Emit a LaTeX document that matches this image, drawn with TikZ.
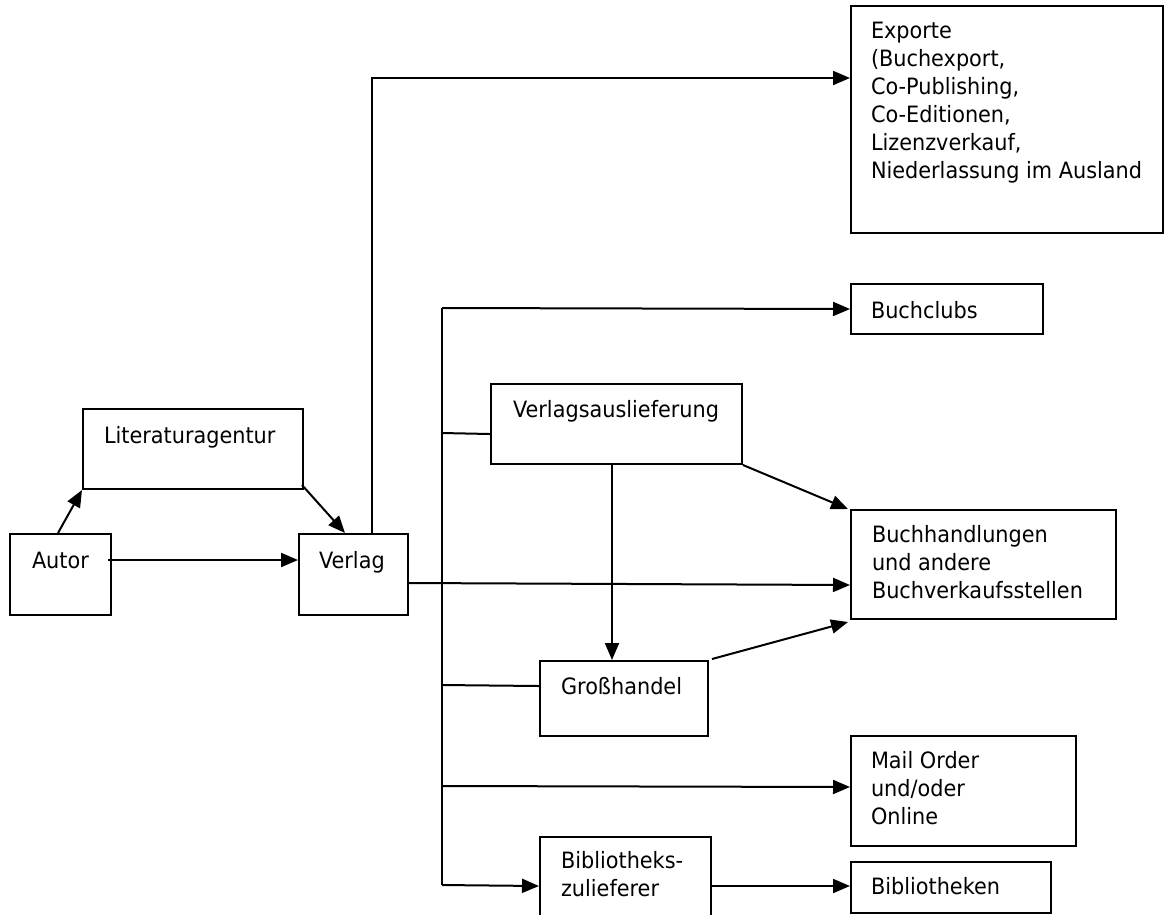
\documentclass[tikz,border=0pt]{standalone}
\usepackage{fontspec}
\setmainfont{DejaVu Sans}[FakeStretch=0.925]
\usetikzlibrary{arrows.meta,calc}
\newcommand\bt[3]{\hbox to #1pt{\hskip #2pt\parbox[t]{\dimexpr #1pt-#2pt\relax}{\raggedright #3}}}
\begin{document}
\begin{tikzpicture}[x=1pt,y=-1pt,
  bx/.style={draw, line width=2pt, inner sep=0pt, anchor=north west,
    font=\fontsize{22.5}{28}\selectfont},
  ln/.style={line width=2pt},
  arr/.style={line width=2pt, -{Triangle[length=17pt,width=14pt]}}]
\useasboundingbox (0,0) rectangle (1164,914);
% boxes
\node[bx, text height=34pt, text depth=47pt] (autor) at (9,533) {\bt{101}{22}{Autor}};
\node[bx, text height=34pt, text depth=47pt] (verlag) at (298,533) {\bt{109}{20}{Verlag}};
\node[bx, text height=34pt, text depth=46pt] (lit) at (82,408) {\bt{220}{21}{Literaturagentur}};
\node[bx, text height=32pt, text depth=195pt] (exp) at (850,5) {\bt{312}{20}{Exporte\\(Buchexport,\\Co-Publishing,\\Co-Editionen,\\Lizenzverkauf,\\Niederlassung im Ausland}};
\node[bx, text height=34pt, text depth=16pt] (club) at (850,283) {\bt{192}{20}{Buchclubs}};
\node[bx, text height=33pt, text depth=47pt] (va) at (490,383) {\bt{251}{22}{Verlagsauslieferung}};
\node[bx, text height=32pt, text depth=77pt] (bh) at (850,509) {\bt{265}{21}{Buchhandlungen\\und andere\\Buchverkaufsstellen}};
\node[bx, text height=33pt, text depth=42pt] (gh) at (539,660) {\bt{168}{21}{Großhandel}};
\node[bx, text height=32pt, text depth=78pt] (mo) at (850,735) {\bt{225}{20}{Mail Order\\und/oder\\Online}};
\node[bx, text height=31pt, text depth=67pt] (bz) at (539,836) {\bt{171}{21}{Bibliotheks-\\zulieferer}};
\node[bx, text height=32pt, text depth=19pt] (bib) at (850,861) {\bt{200}{20}{Bibliotheken}};
% connectors
\draw[arr] ([xshift=49pt]autor.north west) -- (lit.south west);
\draw[arr] ([xshift=-2pt,yshift=5pt]lit.south east) -- ([xshift=47pt]verlag.north west);
\draw[arr] ([xshift=-4pt,yshift=14.5pt]autor.east) -- ([yshift=14.5pt]verlag.west);
\draw[arr] ([xshift=-37pt]verlag.north east) |- ([yshift=41.5pt]exp.west);
\draw[arr] ([yshift=-8.5pt]verlag.east) -- ([yshift=-20.5pt]bh.west);
\coordinate (ttop) at (442,308);
\coordinate (tbot) at (442,885);
\draw[ln] (ttop) -- (tbot);
\draw[arr] (ttop) -- (club.west);
\draw[ln] (ttop |- 0,433) -- ([yshift=-10pt]va.west);
\draw[ln] (ttop |- 0,685) -- ([yshift=12.5pt]gh.west);
\draw[arr] (ttop |- 0,786) -- ([yshift=4pt]mo.west);
\draw[arr] (tbot) -- (bz.west);
\draw[arr] (bz.east) -- (bz.east -| bib.west);
\draw[arr] ([xshift=-4.5pt]va.south) -- ([xshift=-4.5pt]va.south |- gh.north);
\draw[arr] (va.south east) -- ([xshift=-2pt]bh.north west);
\draw[arr] ([xshift=3pt,yshift=1pt]gh.north east) -- ([xshift=-2pt,yshift=-2pt]bh.south west);
\end{tikzpicture}
\end{document}
